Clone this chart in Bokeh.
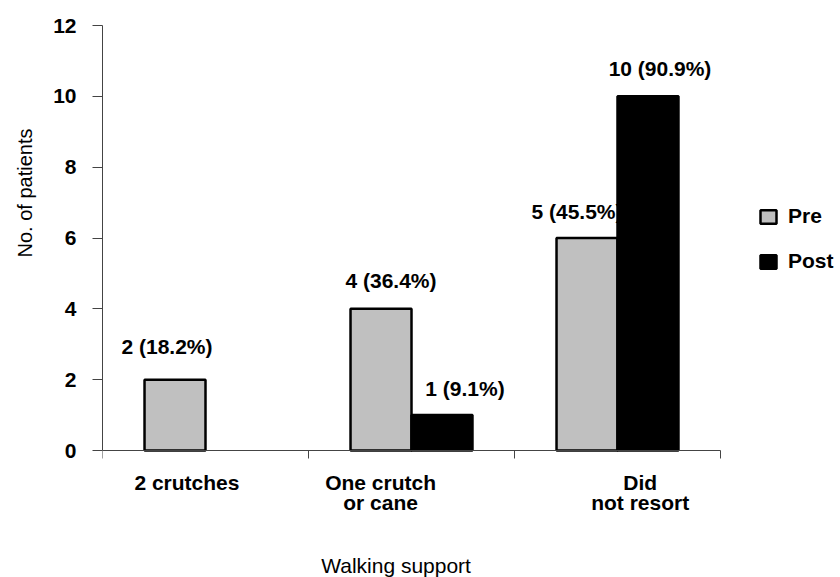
import math
from bokeh.plotting import figure
from bokeh.models import (Range1d, FixedTicker, Legend, LegendItem, Label,
                          ColumnDataSource, Title)
from bokeh.core.properties import value
from bokeh.embed import file_html
from bokeh.resources import INLINE

# ---------------- data ----------------
categories = ["2 crutches", "One crutch\nor cane", "Did\nnot resort"]
series_names = ["Pre", "Post"]
pre_counts = [2, 4, 6]
post_counts = [0, 1, 10]
pre_labels = ["2 (18.2%)", "4 (36.4%)", "5 (45.5%)"]
post_labels = ["", "1 (9.1%)", "10 (90.9%)"]
y_ticks = [0, 2, 4, 6, 8, 10, 12]
y_max = 12
x_title = "Walking support"
y_title = "No. of patients"

# ---------------- styles ----------------
FONT = "Liberation Sans"
BOLD_SIZE = "21px"
PRE_COLOR = "#c0c0c0"
POST_COLOR = "#000000"
AXIS_COLOR = "#444444"
BAR_W = 0.296
pre_dx = [-8, 10, -10]
pre_dy = [-33, -28, -27]
post_dx = [0, 23, 12]
post_dy = [0, -27, -28]
cat_shift = [-0.09, -0.15, 0.11]   # category label shift, in category widths

W, H = 840, 577
n = len(categories)
x_end = n * (W - 102) / (720 - 102)
y_start = -y_max * (H - 450) / (450 - 25)
p = figure(width=W, height=H, output_backend="svg", toolbar_location=None,
           x_range=Range1d(0, x_end), y_range=Range1d(y_start, y_max),
           min_border_left=102, min_border_right=0, min_border_top=25,
           min_border_bottom=0)
p.xgrid.visible = False
p.ygrid.visible = False
p.outline_line_color = None
p.background_fill_color = "white"
p.border_fill_color = "white"

# y axis
ya = p.yaxis[0]
ya.bounds = (0, y_max)
ya.ticker = FixedTicker(ticks=y_ticks)
ya.major_tick_out = 10
ya.major_tick_in = 0
ya.minor_tick_out = 0
ya.minor_tick_in = 0
ya.axis_line_color = AXIS_COLOR
ya.major_tick_line_color = AXIS_COLOR
ya.major_label_text_font = FONT
ya.major_label_text_font_style = "bold"
ya.major_label_text_font_size = BOLD_SIZE
ya.major_label_text_color = "black"
ya.major_label_standoff = 16

centers = [i + 0.5 for i in range(n)]
label_pos = [round(c + s, 3) for c, s in zip(centers, cat_shift)]

# x axis at y=0: labelled major ticks (no marks) + minor marks at boundaries
xa = p.xaxis[0]
xa.fixed_location = 0
xa.bounds = (0, n)
xa.ticker = FixedTicker(ticks=label_pos, minor_ticks=list(range(n + 1)))
xa.major_label_overrides = {k: t for k, t in zip(label_pos, categories)}
xa.major_tick_out = 0
xa.major_tick_in = 0
xa.major_tick_line_color = None
xa.minor_tick_out = 8
xa.minor_tick_in = 0
xa.minor_tick_line_color = AXIS_COLOR
xa.axis_line_color = AXIS_COLOR
xa.major_label_standoff = 12
xa.major_label_text_font = FONT
xa.major_label_text_font_style = "bold"
xa.major_label_text_font_size = BOLD_SIZE
xa.major_label_text_color = "black"
xa.major_label_text_line_height = 0.9

pre_src = ColumnDataSource(dict(
    x=[c - BAR_W / 2 for c in centers], top=pre_counts, label=pre_labels,
    dx=pre_dx, dy=pre_dy))
idx = [i for i, v in enumerate(post_counts) if v > 0]
post_src = ColumnDataSource(dict(
    x=[centers[i] + BAR_W / 2 for i in idx],
    top=[post_counts[i] for i in idx],
    label=[post_labels[i] for i in idx],
    dx=[post_dx[i] for i in idx], dy=[post_dy[i] for i in idx]))

# value labels first (bars drawn over them)
for src in (pre_src, post_src):
    p.text(x="x", y="top", text="label", source=src, x_offset="dx", y_offset="dy",
           text_font=value(FONT), text_font_style="bold", text_font_size=BOLD_SIZE,
           text_align="center", text_baseline="middle", text_color="black")

r_pre = p.vbar(x="x", top="top", bottom=0, width=BAR_W, source=pre_src,
               fill_color=PRE_COLOR, line_color="black", line_width=2.5)
r_post = p.vbar(x="x", top="top", bottom=0, width=BAR_W, source=post_src,
                fill_color=POST_COLOR, line_color="black", line_width=2.5)

# axis titles
p.add_layout(Label(x=1.425, y=-3.25, text=x_title, text_font=FONT,
                   text_font_size="21px", text_align="center",
                   text_baseline="middle", text_color="black"))
p.add_layout(Title(text=y_title, align="left", offset=320, standoff=26,
                   vertical_align="top",
                   text_font=FONT, text_font_style="normal",
                   text_font_size="20px", text_color="black"), "left")

legend = Legend(items=[LegendItem(label=series_names[0], renderers=[r_pre]),
                       LegendItem(label=series_names[1], renderers=[r_post])],
                location=(656, 304), orientation="vertical",
                glyph_width=20, glyph_height=17, label_standoff=10,
                label_height=20, spacing=21, padding=0, margin=0,
                label_text_font=FONT, label_text_font_style="bold",
                label_text_font_size=BOLD_SIZE, label_text_color="black",
                border_line_alpha=0, background_fill_alpha=0)
p.add_layout(legend, "center")

open("out.html", "w").write(file_html(p, INLINE))
